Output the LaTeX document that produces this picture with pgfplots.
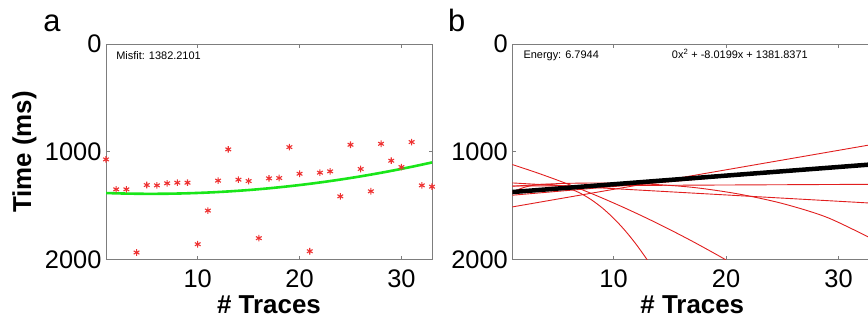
\documentclass[border=0pt]{standalone}
\usepackage{fontspec}
\setmainfont{Liberation Sans}
\usepackage{pgfplots}
\pgfplotsset{compat=1.18}
\definecolor{mgreen}{RGB}{25,230,25}
\definecolor{mred}{RGB}{225,30,30}
\definecolor{mstar}{RGB}{238,50,50}
\definecolor{axgray}{RGB}{125,125,125}
\pgfplotsset{
  mystyle/.style={
    scale only axis,
    height=215.5bp,
    ymin=0, ymax=2000, y dir=reverse,
    xmin=1, xmax=33,
    ytick={0,1000,2000},
    xtick={10,20,30},
    scaled ticks=false,
    /pgf/number format/1000 sep={},
    /pgf/number format/assume math mode=true,
    tick label style={font=\fontsize{25.5}{28}\selectfont, inner sep=0pt},
    yticklabel style={xshift=-4.3bp},
    xticklabel style={yshift=-10bp},
    axis line style={axgray, line width=0.8bp},
    tick style={axgray, line width=0.8bp},
    major tick length=3.5bp,
    tick align=inside,
    tick pos=both,
    xticklabel pos=bottom,
    yticklabel pos=left,
  }
}
\begin{document}
\begin{tikzpicture}
% ---------- panel a ----------
\begin{axis}[mystyle, at={(106bp,60.5bp)}, anchor=south west, width=326bp]
\addplot[mgreen, line width=2.6bp, smooth] coordinates {
(1,1383.0) (3,1388.2) (5,1390.4) (7,1389.5) (9,1385.5) (11,1378.5) (13,1368.4)
(15,1355.3) (17,1339.1) (19,1319.8) (21,1297.5) (23,1272.0) (25,1243.6)
(27,1212.0) (29,1177.4) (31,1139.8) (33,1099.1)};
\addplot[only marks, mark=asterisk, mark size=3.3bp, mark options={mstar, line width=1.1bp}] coordinates {
(1,1071) (2,1349) (3,1349) (4,1935) (5,1309) (6,1312) (7,1293) (8,1287) (9,1287)
(10,1858) (11,1546) (12,1268) (13,978) (14,1259) (15,1272) (16,1802) (17,1247)
(18,1244) (19,957) (20,1204) (21,1923) (22,1194) (23,1182) (24,1414) (25,935)
(26,1160) (27,1367) (28,926) (29,1083) (30,1142) (31,910) (32,1312) (33,1324)};
\node[anchor=base west, inner sep=0pt, font=\fontsize{11}{13}\selectfont] at (axis description cs:0.031,0.926) {Misfit: 1382.2101};
\end{axis}
% ---------- panel b ----------
\begin{axis}[mystyle, at={(512.3bp,60.5bp)}, anchor=south west, width=360bp]
% curve A
\addplot[mred, line width=0.9bp, smooth] coordinates {
(1,1118.7) (3,1188.1) (5,1263.1) (7,1343.6) (9,1429.9) (11,1521.7) (13,1619.1)
(15,1722.2) (17,1830.7) (19,1945.0) (20,2004.2)};
% curve B
\addplot[mred, line width=0.9bp, smooth] coordinates {
(1,1373.4) (2,1332.4) (3,1308.4) (4,1301.5) (5,1311.5) (6,1338.5) (7,1382.6)
(8,1443.6) (9,1521.6) (10,1616.7) (11,1728.7) (12,1857.7) (13,2003.7)};
% curve C
\addplot[mred, line width=0.9bp] coordinates {(1,1512) (17,1222) (33,932.5)};
% curve D
\addplot[mred, line width=0.9bp, smooth] coordinates {
(1,1320) (5,1296) (9,1290) (13,1300) (17,1330) (21,1390) (25,1480)
(29,1610) (33,1810)};
% curve E
\addplot[mred, line width=0.9bp] coordinates {(1,1289.4) (33,1477.2)};
% curve H
\addplot[mred, line width=0.9bp] coordinates {(1,1318) (33,1302)};
% curve F
\addplot[mred, line width=0.9bp] coordinates {(1,1403.5) (33,1116.9)};
% best fit
\addplot[black, line width=4.5bp] coordinates {(1,1373.8) (33,1117.2)};
\node[anchor=base west, inner sep=0pt, font=\fontsize{11}{13}\selectfont] at (axis description cs:0.0306,0.932) {Energy: 6.7944};
\node[anchor=base west, inner sep=0pt, font=\fontsize{11}{13}\selectfont] at (axis description cs:0.443,0.932) {0x\textsuperscript{2} + -8.0199x + 1381.8371};
\end{axis}
% ---------- labels ----------
\node[rotate=90, anchor=base, inner sep=0pt, font=\bfseries\fontsize{26}{30}\selectfont] at (31bp,168bp) {Time (ms)};
\node[anchor=base, inner sep=0pt, font=\bfseries\fontsize{26}{30}\selectfont] at (269bp,7bp) {\# Traces};
\node[anchor=base, inner sep=0pt, font=\bfseries\fontsize{26}{30}\selectfont] at (692.3bp,7bp) {\# Traces};
\node[anchor=base west, inner sep=0pt, font=\fontsize{31}{34}\selectfont] at (43.2bp,288.5bp) {a};
\node[anchor=base west, inner sep=0pt, font=\fontsize{31}{34}\selectfont] at (448bp,288.5bp) {b};
\pgfresetboundingbox
\useasboundingbox (0,0) rectangle (868bp,320bp);
\end{tikzpicture}
\end{document}
